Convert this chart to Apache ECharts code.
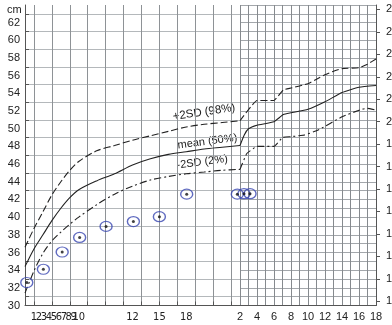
<!DOCTYPE html>
<html><head><meta charset="utf-8">
<script src="https://cdn.jsdelivr.net/npm/echarts@6/dist/echarts.min.js"></script>
<style>html,body{margin:0;padding:0;background:#fff}#c{width:392px;height:325px}</style>
</head><body><div id="c"></div><script>
// Head circumference chart: birth to 24 months (left panel), 2 to 18 years (right panel)

// x-axis tick labels
const infantLabels = ['1','2','3','4','5','6','7','8','9','10'];
const laterMonthLabels = ['12','15','18'];
const laterMonthValues = [12, 15, 18];
const yearLabels = [2, 4, 6, 8, 10, 12, 14, 16, 18];
// y-axis tick labels
const cmLabels = [30,32,34,36,38,40,42,44,46,48,50,52,54,56,58,60,62];
const inchLabels = [12,13,14,15,16,17,18,19,20,21,22,23,24,25];

// reference curves, infancy: [age in months, cm]
const plus2Infant = [[0,36.6],[1,38.7],[2,40.6],[3,42.5],[4,44.0],[5,45.3],[6,46.3],[8,47.5],[10,48.1],[12,48.7],[14,49.2],[16,49.7],[18,50.2],[20,50.5],[22,50.7],[24,50.9]];
const meanInfant  = [[0,34.4],[1,36.4],[2,38.0],[3,39.6],[4,41.0],[5,42.2],[6,43.1],[8,44.1],[10,44.9],[12,45.9],[14,46.6],[16,47.1],[18,47.4],[20,47.7],[22,47.9],[24,48.1]];
const minus2Infant= [[0,31.4],[1,33.9],[2,35.9],[3,37.3],[4,38.3],[5,39.2],[6,40.0],[8,41.4],[10,42.6],[12,43.5],[14,44.2],[16,44.6],[18,44.9],[20,45.1],[22,45.3],[24,45.4]];
// reference curves, childhood: [age in years, cm]
const plus2Child  = [[2,50.9],[4,53.2],[6,53.2],[7.1,54.4],[8,54.6],[10,55.1],[11,55.6],[12,56.1],[13,56.5],[14,56.8],[16,56.9],[17,57.3],[18,57.9]];
const meanChild   = [[2,48.1],[2.5,49.3],[3,50.0],[4,50.4],[6,50.8],[7.1,51.6],[8,51.8],[10,52.2],[12,53.05],[14,54.1],[16,54.7],[18,54.9]];
const minus2Child = [[2,45.4],[2.8,47.2],[4,48.0],[6,48.0],[7,49.0],[8,49.1],[9.6,49.3],[11.2,49.85],[14,51.35],[16.3,52.2],[17,52.3],[18,52.1]];

// patient measurements
const patientInfant = [[0.2,32.6],[2.05,34.1],[4.15,36.05],[6.1,37.7],[9.05,38.95],[12.1,39.5],[15,40.05],[18.05,42.6],[23.7,42.6]];
const patientChild  = [[2.47,42.65],[3.18,42.65]];

const FONT = 'Liberation Sans, Arial, sans-serif';
const NARROW = 'Liberation Sans Narrow, Arial Narrow, DejaVu Sans Condensed, sans-serif';
const INK = '#222';

// crowded month labels sit on an even spacing from month 1;
// an empty label at 0 keeps the first real label from being dropped as overlapping
const labelPos = infantLabels.map((_, i) => +(1 + i * 0.555).toFixed(3));
const monthLabelValues = [0].concat(labelPos, laterMonthValues);
const monthLabelText = new Map();
infantLabels.forEach((t, i) => monthLabelText.set(labelPos[i].toFixed(3), t));
laterMonthLabels.forEach((t, i) => monthLabelText.set(laterMonthValues[i].toFixed(3), t));

const oddCm = [];
for (let v = 31; v < 64; v += 2) oddCm.push(v);
const monthTicks = [];
for (let m = 1; m < 24; m += 2) monthTicks.push(m);
const inchTicks = inchLabels.slice();

const curve = (data, xi, yi, type, smooth) => ({
  type: 'line', data, xAxisIndex: xi, yAxisIndex: yi, symbol: 'none', smooth,
  lineStyle: { color: INK, width: 1.1, type }, silent: true, z: 3
});
const ring = (data, xi, yi) => ({
  type: 'scatter', data, xAxisIndex: xi, yAxisIndex: yi, symbol: 'circle', symbolSize: [12, 10],
  itemStyle: { color: 'rgba(0,0,0,0)', borderColor: '#3846b0', borderWidth: 1.3 }, z: 4, clip: false
});
const dot = (data, xi, yi) => ({
  type: 'scatter', data, xAxisIndex: xi, yAxisIndex: yi, symbol: 'circle', symbolSize: 3,
  itemStyle: { color: '#111' }, z: 5, clip: false
});

const chart = echarts.init(document.getElementById('c'), null, { renderer: 'canvas' });
chart.setOption({
  animation: false,
  backgroundColor: '#fff',
  grid: [
    { left: 25, top: 5, width: 215, bottom: 19.5, containLabel: false, outerBoundsMode: 'none' },
    { left: 240, top: 5, width: 136, bottom: 19.5, containLabel: false, outerBoundsMode: 'none' }
  ],
  xAxis: [
    { type: 'value', gridIndex: 0, min: 0, max: 24, interval: 2,
      axisLine: { show: true, lineStyle: { color: '#555', width: 1 } },
      axisTick: { show: true, inside: true, length: 4, customValues: monthTicks, lineStyle: { color: '#555' } },
      axisLabel: { show: true, customValues: monthLabelValues, margin: 6, hideOverlap: false,
        formatter: v => monthLabelText.get((+v).toFixed(3)) || '',
        fontFamily: NARROW, fontSize: 11, color: INK },
      splitLine: { show: true, lineStyle: { color: '#8e9296', width: 1 } } },
    { type: 'value', gridIndex: 1, min: 2, max: 18, interval: 1,
      axisLine: { show: true, lineStyle: { color: '#555', width: 1 } },
      axisTick: { show: false },
      axisLabel: { show: true, customValues: yearLabels, margin: 6, hideOverlap: false,
        fontFamily: FONT, fontSize: 11, color: INK },
      splitLine: { show: true, lineStyle: { color: '#868a8e', width: 1 } } }
  ],
  yAxis: [
    { type: 'value', gridIndex: 0, min: 30, max: 64, interval: 2,
      axisLine: { show: true, lineStyle: { color: '#555', width: 1 } },
      axisTick: { show: true, inside: true, length: 4, customValues: oddCm, lineStyle: { color: '#555' } },
      axisLabel: { customValues: cmLabels, margin: 5, fontFamily: FONT, fontSize: 11, color: INK },
      splitLine: { show: true, lineStyle: { color: '#b4b8bb', width: 1 } } },
    { type: 'value', gridIndex: 1, min: 30, max: 64, interval: 1,
      axisLine: { show: false }, axisTick: { show: false }, axisLabel: { show: false },
      splitLine: { show: true, lineStyle: { color: '#a3a7ab', width: 1 } } },
    { type: 'value', gridIndex: 1, position: 'right', min: 30 / 2.54, max: 64 / 2.54,
      axisLine: { show: true, lineStyle: { color: '#555', width: 1 } },
      axisTick: { show: true, length: 4, customValues: inchTicks, lineStyle: { color: '#555' } },
      axisLabel: { customValues: inchLabels, margin: 10, hideOverlap: false, fontFamily: FONT, fontSize: 11, color: INK },
      splitLine: { show: false } }
  ],
  graphic: [
    { type: 'text', x: 7, y: 4, style: { text: 'cm', font: '11px ' + FONT, fill: INK } },
    { type: 'text', x: 172, y: 111, rotation: 0.15, style: { text: '+2SD (98%)', font: '11.5px ' + FONT, fill: INK } },
    { type: 'text', x: 177, y: 140, rotation: 0.13, style: { text: 'mean (50%)', font: '11px ' + FONT, fill: INK } },
    { type: 'text', x: 176, y: 160, rotation: 0.13, style: { text: '-2SD (2%)', font: '11px ' + FONT, fill: INK } }
  ],
  series: [
    curve(plus2Infant, 0, 0, [7, 3], 0.3),
    curve(meanInfant, 0, 0, 'solid', 0.3),
    curve(minus2Infant, 0, 0, [7, 3, 2, 3], 0.3),
    curve(plus2Child, 1, 1, [7, 3], 0.1),
    curve(meanChild, 1, 1, 'solid', 0.15),
    curve(minus2Child, 1, 1, [7, 3, 2, 3], 0.1),
    ring(patientInfant, 0, 0), dot(patientInfant, 0, 0),
    ring(patientChild, 1, 1), dot(patientChild, 1, 1)
  ]
});
</script></body></html>
